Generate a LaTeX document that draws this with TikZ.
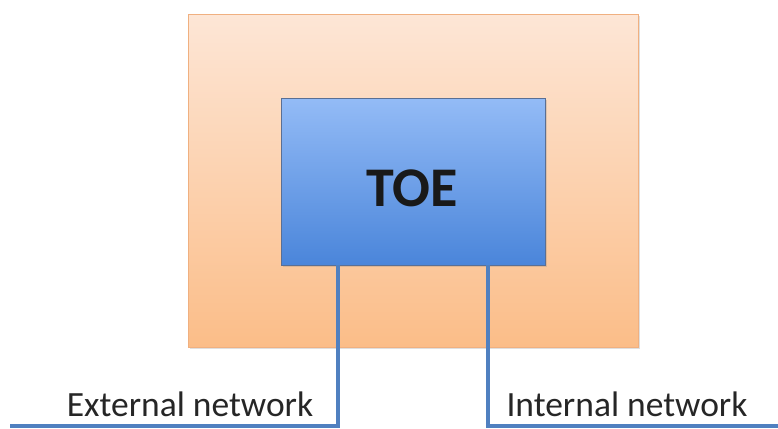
\documentclass[tikz,border=0pt]{standalone}
\usepackage{fontspec}
\setmainfont{Carlito}
\usetikzlibrary{shadows}
\definecolor{orTop}{HTML}{FDE6D6}
\definecolor{orBot}{HTML}{FBBD88}
\definecolor{orEdge}{HTML}{F0B080}
\definecolor{blTop}{HTML}{93BBF6}
\definecolor{blBot}{HTML}{4A85DA}
\definecolor{blEdge}{HTML}{5A6F94}
\definecolor{wire}{HTML}{5080C0}
\tikzset{
  outerbox/.style={draw=orEdge, line width=1.2pt, top color=orTop, bottom color=orBot,
    minimum width=450pt, minimum height=333pt, inner sep=0pt, anchor=north west,
    drop shadow={shadow xshift=1.5pt, shadow yshift=-1.5pt, opacity=0.25}},
  toebox/.style={draw=blEdge, line width=1.2pt, top color=blTop, bottom color=blBot,
    minimum width=264pt, minimum height=167pt, inner sep=0pt, anchor=north west,
    drop shadow={shadow xshift=1.5pt, shadow yshift=-1.5pt, opacity=0.25}},
  wireline/.style={draw=wire, line width=3.4pt},
  label/.style={font=\fontsize{35.5pt}{38pt}\selectfont, text=black!85, inner sep=0pt, anchor=base}
}
\begin{document}
\begin{tikzpicture}[x=1pt,y=-1pt]
\useasboundingbox (0,0) rectangle (778,428);
\node[outerbox] (outer) at (188,14) {};
\node[toebox] (toe) at (281,98) {};
\node[font=\bfseries\fontsize{56pt}{60pt}\selectfont, text=black!90, inner sep=0pt, anchor=base] (toetxt) at (412,206) {TOE};
\coordinate (ta) at (338,265);
\coordinate (tb) at (488,265);
\coordinate (ba) at (338,426);
\coordinate (bb) at (488,426);
\coordinate (le) at (10,426);
\coordinate (re) at (778,426);
\draw[wireline] (ta) -- (ba) -- (le);
\draw[wireline] (tb) -- (bb) -- (re);
\node[label] (ext) at (190,416) {External network};
\node[label] (int) at (627,416) {Internal network};
\end{tikzpicture}
\end{document}
